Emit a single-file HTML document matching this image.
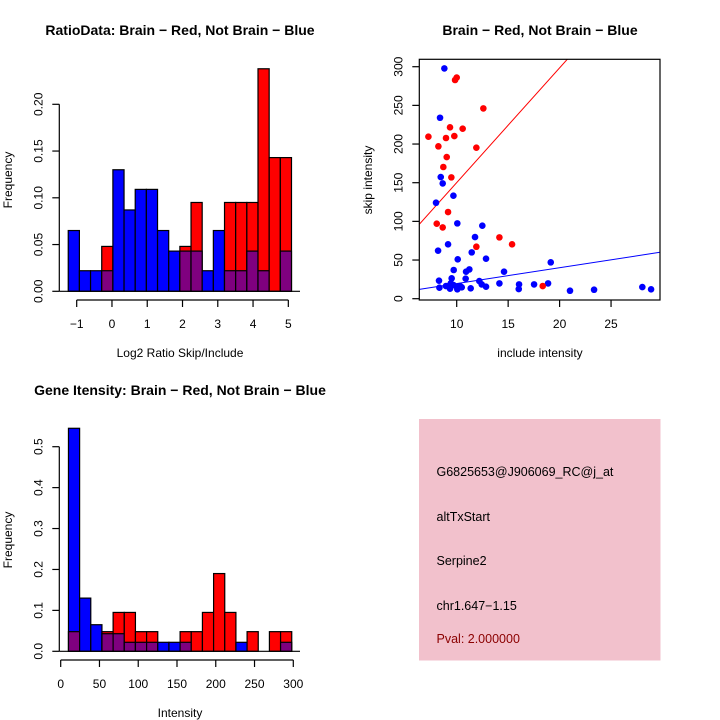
<!DOCTYPE html>
<html><head><meta charset="utf-8"><style>
body{margin:0;background:#fff}
svg{display:block;font-family:"Liberation Sans",sans-serif}
</style></head><body>
<svg id="s" width="720" height="720" xmlns="http://www.w3.org/2000/svg">
<rect width="720" height="720" fill="#fff"/>
<g id="p1"></g>
<g id="p2"></g>
<g id="p3"></g>
<g>
<rect x="419" y="419" width="241.5" height="241.5" fill="#f2c1cc"/>
<text x="436.5" y="476" font-size="12.5">G6825653@J906069_RC@j_at</text>
<text x="436.5" y="521" font-size="12.5">altTxStart</text>
<text x="436.5" y="565" font-size="12.5">Serpine2</text>
<text x="436.5" y="610" font-size="12.5">chr1.647−1.15</text>
<text x="436.5" y="643" font-size="12.5" fill="#8b0000">Pval: 2.000000</text>
</g>
</svg>
<script>
// ---- Plot 1 data ----
const ratioBinStart = -1.24;
const ratioBinWidth = 0.3165;
const ratioBlue = [0.065,0.022,0.022,0.022,0.13,0.087,0.109,0.109,0.065,0.043,0.043,0.043,0.022,0.065,0.022,0.022,0.043,0.022,0,0.043];
const ratioRed  = [0,0,0,0.048,0,0,0,0,0,0,0.048,0.095,0,0,0.095,0.095,0.095,0.238,0.143,0.143];
const ratioXTicks = [-1,0,1,2,3,4,5];
const ratioYTicks = ["0.00","0.05","0.10","0.15","0.20"];
// ---- Plot 2 data ----
const redX = [7.25,8.22,8.96,9.35,9.77,10,9.84,10.58,11.91,12.59,9.03,8.70,9.48,9.16,8.06,8.64,11.91,14.15,15.38,18.36];
const redY = [209.5,197,207.8,221.6,210.3,286,282.8,219.8,195.3,246.1,183.2,170.3,156.9,112.1,97,92.2,67.2,79.3,70.3,16.4];
const blueX = [8.80,8.38,8.45,8.64,9.68,7.99,10.06,12.49,11.78,9.16,8.19,11.46,10.10,12.85,9.71,10.91,11.23,14.60,19.14,8.28,9.51,10.87,12.20,12.43,8.32,9.42,8.96,9.35,10.06,10.32,10.49,11.36,12.85,14.15,16.06,16.03,17.52,18.88,21.01,23.35,28.04,28.89,10,9.68];
const blueY = [297.8,234,157.3,149.1,133.2,124.1,97.4,94.4,79.7,70.3,62.1,59.9,50.9,51.7,37.1,34.9,37.9,34.9,47,23.3,26.3,25.9,22.8,18.5,14.2,19.8,16.4,12.9,12.1,16.4,14.7,13.4,15.5,19.8,18.5,12.5,18.5,19.8,10.3,11.6,15.1,12.1,15.5,17.7];
const redFit = [1.7,14.84];
const blueFit = [-0.95,2.05];
const scatXTicks = [10,15,20,25];
const scatYTicks = [0,50,100,150,200,250,300];
// ---- Plot 3 data ----
const intBinStart = 10;
const intBinWidth = 14.4;
const intBlue = [0.545,0.13,0.065,0.043,0.043,0.022,0.022,0.022,0.022,0.022,0.022,0,0,0,0,0.022,0,0,0,0.022];
const intRed  = [0.048,0,0,0.048,0.095,0.095,0.048,0.048,0,0,0.048,0.048,0.095,0.19,0.095,0,0.048,0,0.048,0.048];
const intXTicks = [0,50,100,150,200,250,300];
const intYTicks = ["0.0","0.1","0.2","0.3","0.4","0.5"];

const NS="http://www.w3.org/2000/svg";
function mk(parent,tag,attrs,text){const e=document.createElementNS(NS,tag);for(const k in attrs)e.setAttribute(k,attrs[k]);if(text!==undefined)e.textContent=text;parent.appendChild(e);return e;}

function hist(g,o){
  const sx=v=>o.x0+(v-o.xv0)*o.kx, sy=v=>o.y0-v*o.ky;
  for(let i=0;i<o.blue.length;i++){
    const a=o.binStart+i*o.binW, b=a+o.binW, x1=sx(a), x2=sx(b);
    const bl=o.blue[i], rd=o.red[i], lo=Math.min(bl,rd), hi=Math.max(bl,rd);
    if(hi<=0) continue;
    const topCol = rd>bl?'#ff0000':'#0000ff';
    const r=mk(g,'rect',{x:x1,y:sy(hi),width:x2-x1,height:sy(0)-sy(hi),fill:topCol,stroke:'#000','stroke-width':1.2});
    
    
    if(lo>0){
      const p=mk(g,'rect',{x:x1,y:sy(lo),width:x2-x1,height:sy(0)-sy(lo),fill:'#7f007f',stroke:'#000','stroke-width':1.2});
      
      
    }
  }
  // baseline
  mk(g,'line',{x1:o.axX,x2:o.baseEnd,y1:sy(0),y2:sy(0),stroke:'#000','stroke-width':1.2});
  // y axis
  const yv=o.yTicks.map(Number);
  mk(g,'line',{x1:o.axX,x2:o.axX,y1:sy(yv[0]),y2:sy(yv[yv.length-1]),stroke:'#000','stroke-width':1.2});
  o.yTicks.forEach((t,i)=>{const y=sy(yv[i]);
    mk(g,'line',{x1:o.axX-7,x2:o.axX,y1:y,y2:y,stroke:'#000','stroke-width':1.2});
    const tx=mk(g,'text',{x:o.axX-17,y:y,'font-size':12,'text-anchor':'middle',transform:`rotate(-90 ${o.axX-17} ${y})`},t);
    
    
  });
  // x axis
  const xa=o.xAxisY;
  mk(g,'line',{x1:sx(o.xTicks[0]),x2:sx(o.xTicks[o.xTicks.length-1]),y1:xa,y2:xa,stroke:'#000','stroke-width':1.2});
  o.xTicks.forEach(t=>{const x=sx(t);
    mk(g,'line',{x1:x,x2:x,y1:xa,y2:xa+7,stroke:'#000','stroke-width':1.2});
    const tx=mk(g,'text',{x:x,y:xa+28,'font-size':12,'text-anchor':'middle'},t<0?'−'+(-t):String(t));
    
    
  });
  const xl=mk(g,'text',{x:o.xlabX,y:xa+57,'font-size':12,'text-anchor':'middle'},o.xlab);
  
  
  const yl=mk(g,'text',{x:12,y:o.ylabY,'font-size':12,'text-anchor':'middle',transform:`rotate(-90 12 ${o.ylabY})`},'Frequency');
  
  
  const ti=mk(g,'text',{x:o.titleX,y:o.titleY,'font-size':14,'font-weight':'bold','text-anchor':'middle'},o.title);
  
  
}

hist(document.getElementById('p1'),{x0:76.7,xv0:-1,kx:35.27,y0:291.3,ky:935,binStart:ratioBinStart,binW:ratioBinWidth,
  blue:ratioBlue,red:ratioRed,yTicks:ratioYTicks,xTicks:ratioXTicks,axX:59.3,baseEnd:300,xAxisY:300,
  xlab:'Log2 Ratio Skip/Include',xlabX:180,ylabY:180,title:'RatioData: Brain − Red, Not Brain − Blue',titleX:180,titleY:35});

hist(document.getElementById('p3'),{x0:60.7,xv0:0,kx:0.7753,y0:651.3,ky:409.2,binStart:intBinStart,binW:intBinWidth,
  blue:intBlue,red:intRed,yTicks:intYTicks,xTicks:intXTicks,axX:59.3,baseEnd:300,xAxisY:660,
  xlab:'Intensity',xlabX:180,ylabY:540,title:'Gene Itensity: Brain − Red, Not Brain − Blue',titleX:180,titleY:395});

// scatter
(function(){
  const g=document.getElementById('p2');
  const L=419.3,R=660,T=59.3,B=300;
  const sx=v=>456.7+(v-10)*10.29, sy=v=>298.7-v*0.7733;
  const cp=mk(g,'clipPath',{id:'clip2'});mk(cp,'rect',{x:L,y:T,width:R-L,height:B-T});
  [[redFit,'#ff0000','red-fit-line'],[blueFit,'#0000ff','blue-fit-line']].forEach(([f,c,n])=>{
    const xa=(L-456.7)/10.29+10, xb=(R-456.7)/10.29+10;
    const l=mk(g,'line',{x1:sx(xa),y1:sy(f[0]+f[1]*xa),x2:sx(xb),y2:sy(f[0]+f[1]*xb),stroke:c,'stroke-width':1,'clip-path':'url(#clip2)'});
    
    
  });
  blueX.forEach((x,i)=>{const c=mk(g,'circle',{cx:sx(x),cy:sy(blueY[i]),r:3.3,fill:'#0000ff'});
    
    });
  redX.forEach((x,i)=>{const c=mk(g,'circle',{cx:sx(x),cy:sy(redY[i]),r:3.3,fill:'#ff0000'});
    
    });
  mk(g,'rect',{x:L,y:T,width:R-L,height:B-T,fill:'none',stroke:'#000','stroke-width':1.2});
  scatYTicks.forEach(t=>{const y=sy(t);
    mk(g,'line',{x1:L-7,x2:L,y1:y,y2:y,stroke:'#000','stroke-width':1.2});
    const tx=mk(g,'text',{x:L-17,y:y,'font-size':12,'text-anchor':'middle',transform:`rotate(-90 ${L-17} ${y})`},String(t));
    
    });
  scatXTicks.forEach(t=>{const x=sx(t);
    mk(g,'line',{x1:x,x2:x,y1:B,y2:B+7,stroke:'#000','stroke-width':1.2});
    const tx=mk(g,'text',{x:x,y:B+28,'font-size':12,'text-anchor':'middle'},String(t));
    
    });
  const xl=mk(g,'text',{x:540,y:357,'font-size':12,'text-anchor':'middle'},'include intensity');
  
  
  const yl=mk(g,'text',{x:372,y:180,'font-size':12,'text-anchor':'middle',transform:'rotate(-90 372 180)'},'skip intensity');
  
  
  const ti=mk(g,'text',{x:540,y:35,'font-size':14,'font-weight':'bold','text-anchor':'middle'},'Brain − Red, Not Brain − Blue');
  
  
})();
</script>
</body></html>
